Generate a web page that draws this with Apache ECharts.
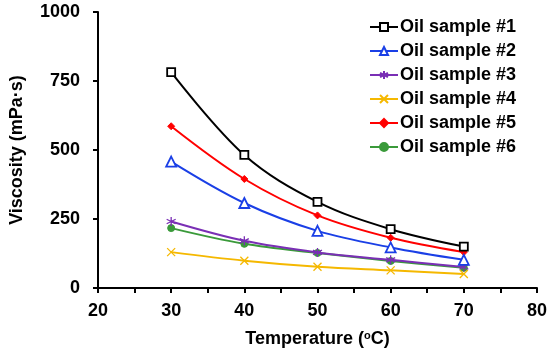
<!DOCTYPE html>
<html><head><meta charset="utf-8">
<script src="https://cdn.jsdelivr.net/npm/echarts@6/dist/echarts.min.js"></script>
<style>html,body{margin:0;padding:0;background:#fff}#c{width:550px;height:356px}</style>
</head><body><div id="c"></div>
<script>
const temps = [30, 40, 50, 60, 70];
const seriesNames = ['Oil sample #1','Oil sample #2','Oil sample #3','Oil sample #4','Oil sample #5','Oil sample #6'];
const oil1 = [782, 482, 312, 213, 150];
const oil2 = [458, 308, 207, 147, 102];
const oil3 = [241, 171, 129, 102, 76];
const oil4 = [130, 99, 77, 64, 51];
const oil5 = [586, 395, 263, 182, 130];
const oil6 = [217, 160, 127, 98, 73];
const xTicks = [20, 30, 40, 50, 60, 70, 80];
const yTicks = [0, 250, 500, 750, 1000];

const FONT = 'Liberation Sans, Arial, sans-serif';
const values = [oil1, oil2, oil3, oil4, oil5, oil6];
const colors = ['#000000', '#1a3fe6', '#7a2fb5', '#f5b800', '#ff0000', '#3a9a3a'];
const symbols = [
  'rect', 'triangle',
  'path://M0,-5L0,5M-4.33,-2.5L4.33,2.5M-4.33,2.5L4.33,-2.5',
  'path://M-4,-4L4,4M-4,4L4,-4',
  'diamond', 'circle'
];
const symSizes = [8, 10, 9, 8, 7, 7];
const hollow = [true, true, true, true, false, false];

const series = values.map((v, i) => ({
  name: seriesNames[i],
  type: 'line',
  smooth: 0.35,
  data: temps.map((t, j) => [t, v[j]]),
  symbol: symbols[i],
  symbolSize: symSizes[i],
  showAllSymbol: true,
  lineStyle: { color: colors[i], width: 2 },
  itemStyle: hollow[i]
    ? { color: i < 2 ? '#fff' : 'none', borderColor: colors[i], borderWidth: i < 2 ? 1.8 : 1.3 }
    : { color: colors[i], borderColor: colors[i], borderWidth: 1 },
  z: 10 - i
}));

const chart = echarts.init(document.getElementById('c'), null, { renderer: 'canvas' });
chart.setOption({
  animation: false,
  textStyle: { fontFamily: FONT },
  grid: { left: 96, right: 12, top: 12, bottom: 68, containLabel: false },
  legend: {
    orient: 'vertical', left: 364, top: 13,
    itemWidth: 28, itemHeight: 10, itemGap: 6,
    textStyle: { fontFamily: FONT, fontWeight: 'bold', fontSize: 18, color: '#000', padding: [0, 0, 0, -3] },
    data: seriesNames
  },
  xAxis: {
    type: 'value', min: xTicks[0], max: xTicks[xTicks.length - 1], interval: 10,
    name: 'Temperature ({sup|o}C)', nameLocation: 'middle', nameGap: 42,
    nameTextStyle: { fontFamily: FONT, fontWeight: 'bold', fontSize: 18, color: '#000',
      rich: { sup: { fontFamily: FONT, fontWeight: 'bold', fontSize: 11, color: '#000', padding: [0, 0, 8, 0] } } },
    axisLine: { show: true, onZero: false, lineStyle: { color: '#000', width: 2 } },
    axisTick: { show: true, length: 5, lineStyle: { color: '#000', width: 2 } },
    minorTick: { show: true, splitNumber: 2, length: 5, lineStyle: { color: '#000', width: 2 } },
    splitLine: { show: false },
    axisLabel: { fontFamily: FONT, fontWeight: 'bold', fontSize: 18, color: '#000', margin: 14 }
  },
  yAxis: {
    type: 'value', min: yTicks[0], max: yTicks[yTicks.length - 1], interval: 250,
    name: 'Viscosity (mPa·s)', nameLocation: 'middle', nameGap: 72, nameRotate: 90,
    nameTextStyle: { fontFamily: FONT, fontWeight: 'bold', fontSize: 18, color: '#000' },
    axisLine: { show: true, lineStyle: { color: '#000', width: 2 } },
    axisTick: { show: true, length: 5, lineStyle: { color: '#000', width: 2 } },
    splitLine: { show: false },
    axisLabel: { fontFamily: FONT, fontWeight: 'bold', fontSize: 18, color: '#000', margin: 18,
      formatter: v => String(v) }
  },
  series: series
});
</script></body></html>
